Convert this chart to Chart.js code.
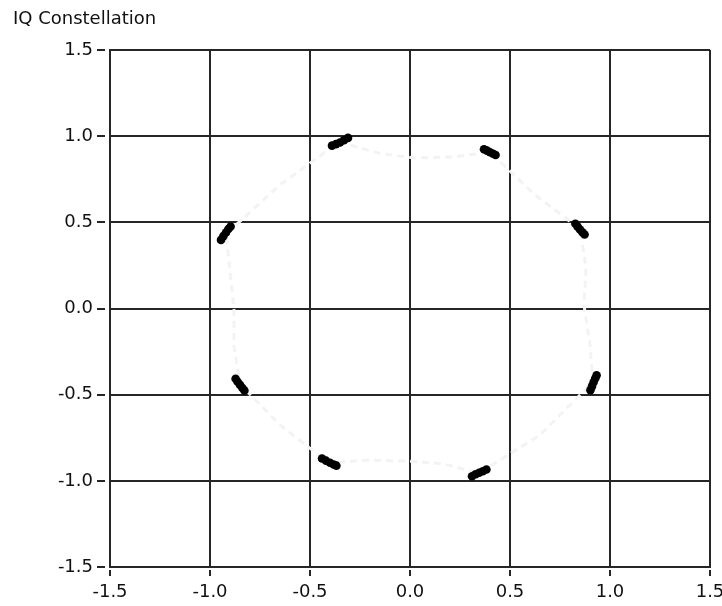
<!DOCTYPE html>
<html>
<head>
<meta charset="utf-8">
<script src="https://cdn.jsdelivr.net/npm/chart.js@4"></script>
<style>
  html, body { margin: 0; padding: 0; background: #fff; }
</style>
</head>
<body>
<canvas id="c" width="722" height="606"></canvas>
<script>
const chartTitle = 'IQ Constellation';
const axisMin = -1.5;
const axisMax = 1.5;
const axisStep = 0.5;

// Received symbol samples: in-phase (I) and quadrature (Q)
const symbolI = [
  -0.390, -0.370, -0.350, -0.330, -0.310,
   0.370,  0.385,  0.400,  0.415,  0.428,
   0.827,  0.838,  0.850,  0.862,  0.873,
   0.902,  0.910,  0.918,  0.926,  0.933,
   0.310,  0.328,  0.346,  0.364,  0.382,
  -0.440, -0.420, -0.400, -0.382, -0.368,
  -0.872, -0.862, -0.850, -0.838, -0.828,
  -0.945, -0.933, -0.920, -0.908, -0.897
];
const symbolQ = [
   0.945,  0.954,  0.963,  0.976,  0.990,
   0.924,  0.916,  0.907,  0.898,  0.891,
   0.492,  0.475,  0.458,  0.442,  0.429,
  -0.474, -0.452, -0.428, -0.406, -0.388,
  -0.973, -0.962, -0.953, -0.944, -0.934,
  -0.870, -0.883, -0.895, -0.905, -0.912,
  -0.408, -0.425, -0.443, -0.461, -0.476,
   0.398,  0.420,  0.441,  0.461,  0.476
];

// Faint transition path between the symbols
const traceI = [-0.355, -0.150, 0.025, 0.220, 0.400, 0.625, 0.850, 0.880, 0.870, 0.900, 0.915, 0.650, 0.345, 0.160, -0.025, -0.220, -0.405, -0.650, -0.850, -0.880, -0.880, -0.900, -0.920, -0.650, -0.355];
const traceQ = [ 0.966, 0.900, 0.873, 0.880, 0.908, 0.659, 0.461, 0.240, 0.020, -0.210, -0.427, -0.734, -0.955, -0.900, -0.885, -0.880, -0.897, -0.676, -0.438, -0.220, -0.010, 0.220, 0.432, 0.717, 0.966];

const ink = '#262626';
const font = { family: 'DejaVu Sans', size: 18 };

const toPoints = (xs, ys) => xs.map((x, i) => ({ x: x, y: ys[i] }));

// Short tick dashes set slightly apart from the axes
const tickDashes = {
  id: 'tickDashes',
  afterDraw(chart) {
    const { ctx, chartArea, scales } = chart;
    ctx.save();
    ctx.strokeStyle = ink;
    ctx.lineWidth = 2;
    ctx.beginPath();
    scales.y.ticks.forEach(t => {
      const py = Math.round(scales.y.getPixelForValue(t.value));
      ctx.moveTo(chartArea.left - 13, py);
      ctx.lineTo(chartArea.left - 5, py);
    });
    scales.x.ticks.forEach(t => {
      const px = Math.round(scales.x.getPixelForValue(t.value));
      ctx.moveTo(px, chartArea.bottom + 3);
      ctx.lineTo(px, chartArea.bottom + 9);
    });
    ctx.stroke();
    ctx.restore();
  }
};

const axisCommon = {
  type: 'linear',
  min: axisMin,
  max: axisMax,
  grid: { color: ink, lineWidth: 2, drawTicks: false },
  border: { display: true, color: ink, width: 2 },
  ticks: {
    stepSize: axisStep,
    color: '#111',
    font: font,
    callback: v => Number(v).toFixed(1)
  }
};

new Chart(document.getElementById('c'), {
  type: 'scatter',
  data: {
    datasets: [
      {
        label: 'trace',
        data: toPoints(traceI, traceQ),
        showLine: true,
        borderColor: '#f3f3f3',
        borderWidth: 3,
        borderDash: [7, 5],
        pointRadius: 0,
        order: 2
      },
      {
        label: 'symbols',
        data: toPoints(symbolI, symbolQ),
        backgroundColor: '#000',
        borderWidth: 0,
        pointRadius: 4.3,
        order: 1
      }
    ]
  },
  options: {
    responsive: false,
    animation: false,
    devicePixelRatio: 1,
    layout: { padding: { left: 13, right: 0, top: 0, bottom: 0 } },
    plugins: {
      legend: { display: false },
      tooltip: { enabled: false },
      title: {
        display: true,
        text: chartTitle,
        align: 'start',
        color: '#111',
        font: { family: 'DejaVu Sans', size: 18, weight: 'normal', lineHeight: 1.2 },
        padding: { top: 9, bottom: 19.4 }
      }
    },
    scales: {
      x: Object.assign({}, axisCommon, {
        position: 'bottom',
        ticks: Object.assign({}, axisCommon.ticks, { padding: 15, maxRotation: 0 }),
        afterFit(scale) {
          scale.height = 39;
          scale.paddingLeft = 0;
          scale.paddingRight = 12;
        }
      }),
      y: Object.assign({}, axisCommon, {
        position: 'left',
        ticks: Object.assign({}, axisCommon.ticks, { padding: 17 }),
        afterFit(scale) {
          scale.width = 97;
        }
      })
    }
  },
  plugins: [tickDashes]
});
</script>
</body>
</html>
